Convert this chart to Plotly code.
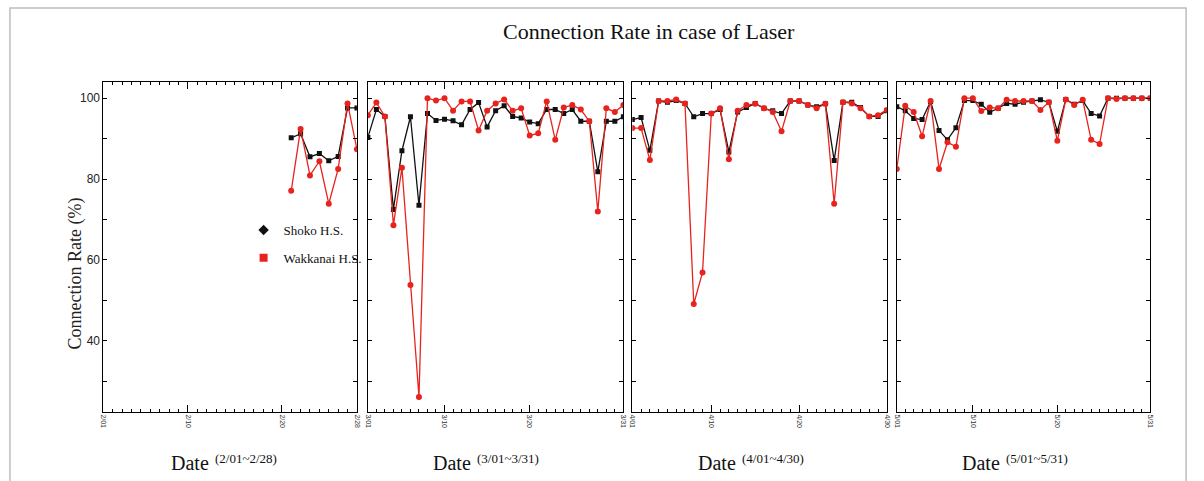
import plotly.graph_objects as go

# ---------------- data ----------------
feb_days = [21, 22, 23, 24, 25, 26, 27, 28]
feb_shoko = [90.2, 91.2, 85.5, 86.3, 84.5, 85.6, 97.6, 97.6]
feb_wakkanai = [77.1, 92.4, 80.9, 84.4, 73.9, 82.5, 98.7, 87.4]

mar_days = list(range(1, 32))
mar_shoko = [90.3, 97.2, 95.5, 72.5, 87.0, 95.4, 73.5, 96.2, 94.5, 94.8, 94.4, 93.4, 97.2, 98.9, 92.9, 96.9,
             98.1, 95.5, 95.1, 94.1, 93.7, 97.2, 97.2, 96.2, 97.2, 94.3, 94.3, 81.8, 94.3, 94.3, 95.4]
mar_wakkanai = [95.8, 98.9, 95.5, 68.6, 82.8, 53.8, 26.1, 100.0, 99.4, 100.0, 96.9, 99.2, 99.2, 92.0, 96.9, 98.7,
                99.7, 96.9, 97.5, 90.8, 91.3, 99.2, 89.7, 97.7, 98.3, 97.2, 94.3, 72.0, 97.5, 96.6, 98.3]

apr_days = list(range(1, 31))
apr_shoko = [94.7, 95.2, 87.1, 99.3, 99.0, 99.4, 98.7, 95.4, 96.2, 96.2, 97.2, 86.7, 96.6, 97.7, 98.7,
             97.5, 96.9, 96.2, 99.3, 99.3, 98.3, 97.9, 98.6, 84.6, 99.0, 99.0, 97.7, 95.5, 95.5, 96.9]
apr_wakkanai = [92.6, 92.6, 84.7, 99.3, 99.3, 99.7, 98.7, 49.1, 56.9, 96.2, 97.5, 84.9, 96.9, 98.3, 98.6,
                97.5, 96.6, 91.8, 99.3, 99.3, 98.3, 97.5, 98.6, 73.9, 99.0, 98.7, 97.5, 95.5, 95.8, 97.1]

may_days = list(range(1, 32))
may_shoko = [97.9, 96.9, 95.0, 94.7, 99.2, 92.0, 89.7, 92.7, 99.4, 99.4, 98.5, 96.5, 97.5, 98.7, 98.5, 99.0,
             99.3, 99.6, 99.0, 91.8, 99.7, 98.5, 99.4, 96.2, 95.6, 100.0, 100.0, 100.0, 100.0, 100.0, 100.0]
may_wakkanai = [82.5, 98.1, 96.6, 90.6, 99.3, 82.5, 89.1, 88.0, 100.0, 100.0, 96.8, 97.7, 97.5, 99.6, 99.3, 99.3,
                99.3, 97.1, 99.0, 89.5, 99.7, 98.3, 99.6, 89.7, 88.7, 100.0, 99.8, 100.0, 100.0, 100.0, 100.0]

panel_days = [feb_days, mar_days, apr_days, may_days]
panel_shoko = [feb_shoko, mar_shoko, apr_shoko, may_shoko]
panel_wakkanai = [feb_wakkanai, mar_wakkanai, apr_wakkanai, may_wakkanai]
month_len = [28, 31, 30, 31]
tick_days = [[1, 10, 20, 28], [1, 10, 20, 31], [1, 10, 20, 30], [1, 10, 20, 31]]
tick_text = [["2/01", "2/10", "2/20", "2/28"], ["3/01", "3/10", "3/20", "3/31"],
             ["4/01", "4/10", "4/20", "4/30"], ["5/01", "5/10", "5/20", "5/31"]]
range_text = ["(2/01~2/28)", "(3/01~3/31)", "(4/01~4/30)", "(5/01~5/31)"]
y_ticks = [40, 60, 80, 100]
y_labels = ["40", "60", "80", "100"]

TITLE = "Connection Rate in case of Laser"
Y_TITLE = "Connection Rate (%)"
X_TITLE = "Date"
SERIES = ["Shoko H.S.", "Wakkanai H.S."]

# ---------------- layout geometry (pixels) ----------------
W, H = 1204, 481
panel_px = [(101, 356), (367, 624), (633, 889), (899, 1154)]
plot_top, plot_bot = 82, 412
date_right = [209, 473, 739, 1005]

def px(x):
    return x / W

def py(y):
    return 1 - y / H

serif = "Liberation Serif"
BLACK = "#111111"
RED = "#e8231d"

fig = go.Figure()
layout = dict(
    width=W, height=H,
    margin=dict(l=0, r=0, t=0, b=0),
    paper_bgcolor="white", plot_bgcolor="white",
    showlegend=True,
)

for i in range(4):
    ax = "" if i == 0 else str(i + 1)
    xref = "x" + ax
    yref = "y" + ax
    fig.add_trace(go.Scatter(
        x=panel_days[i], y=panel_shoko[i], mode="lines+markers",
        line=dict(color=BLACK, width=1.3), marker=dict(color=BLACK, size=5, symbol="square"),
        xaxis=xref, yaxis=yref, showlegend=False, name=SERIES[0]))
    fig.add_trace(go.Scatter(
        x=panel_days[i], y=panel_wakkanai[i], mode="lines+markers",
        line=dict(color=RED, width=1.3), marker=dict(color=RED, size=6, symbol="circle"),
        xaxis=xref, yaxis=yref, showlegend=False, name=SERIES[1]))

    x0, x1 = panel_px[i]
    layout["xaxis" + ax] = dict(
        domain=[px(x0), px(x1)], anchor=yref,
        range=[1, month_len[i]],
        tickmode="array", tickvals=tick_days[i], ticktext=tick_text[i],
        ticks="inside", ticklen=7, tickcolor="black", tickwidth=1,
        minor=dict(tickmode="linear", tick0=1, dtick=1, ticks="inside", ticklen=3,
                   tickcolor="black", tickwidth=1),
        tickangle=90, tickfont=dict(family="Liberation Sans", size=7, color="#333"),
        showline=True, linecolor="black", linewidth=1, mirror="ticks",
        showgrid=False, zeroline=False, fixedrange=True,
    )
    layout["yaxis" + ax] = dict(
        domain=[py(plot_bot), py(plot_top)], anchor=xref,
        range=[22.4, 104],
        tickmode="array", tickvals=y_ticks, ticktext=y_labels,
        ticks="inside", ticklen=4, tickcolor="black",
        minor=dict(tickmode="linear", tick0=0, dtick=10, ticks="inside", ticklen=4,
                   tickcolor="black"),
        showticklabels=(i == 0),
        tickfont=dict(family="Liberation Sans", size=12, color="#222"),
        showline=True, linecolor="black", linewidth=1, mirror="ticks",
        showgrid=False, zeroline=False, fixedrange=True,
    )

# legend-only traces (markers only, as in the reference)
fig.add_trace(go.Scatter(x=[None], y=[None], mode="markers", name=SERIES[0],
                         marker=dict(color=BLACK, size=8, symbol="diamond"), legendgroup="a"))
fig.add_trace(go.Scatter(x=[None], y=[None], mode="markers", name=SERIES[1],
                         marker=dict(color=RED, size=8, symbol="square"), legendgroup="b"))

layout["legend"] = dict(
    x=px(242), y=py(215), xanchor="left", yanchor="top",
    bgcolor="rgba(0,0,0,0)", tracegroupgap=8, itemwidth=30,
    font=dict(family=serif, size=13, color="#111"),
)

annotations = [
    dict(text=TITLE, x=px(650), y=py(31), xref="paper", yref="paper", showarrow=False,
         font=dict(family=serif, size=22, color="#111"), xanchor="center", yanchor="middle"),
    dict(text=Y_TITLE, x=px(72), y=py(274), xref="paper", yref="paper", showarrow=False,
         textangle=-90, font=dict(family=serif, size=18, color="#222"), xanchor="center", yanchor="middle"),
]
for i in range(4):
    annotations.append(dict(
        text=X_TITLE, x=px(date_right[i]), y=py(463), xref="paper", yref="paper", showarrow=False,
        font=dict(family=serif, size=20, color="#111"), xanchor="right", yanchor="middle"))
    annotations.append(dict(
        text=range_text[i], x=px(date_right[i] + 2), y=py(458), xref="paper", yref="paper",
        showarrow=False, font=dict(family=serif, size=13, color="#111"),
        xanchor="left", yanchor="middle"))
layout["annotations"] = annotations

layout["shapes"] = [dict(type="rect", xref="paper", yref="paper",
                         x0=px(7), x1=px(1190), y0=-0.05, y1=py(8),
                         line=dict(color="#bdbdbd", width=1.5), layer="below")]

fig.update_layout(**layout)
fig.write_html("out.html")
